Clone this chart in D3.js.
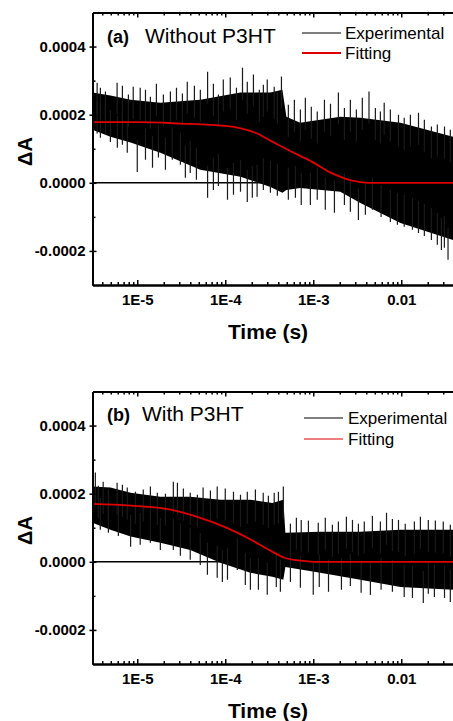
<!DOCTYPE html>
<html>
<head>
<meta charset="utf-8">
<script src="https://cdn.jsdelivr.net/npm/d3@7"></script>
<style>
  body { margin: 0; background: #fff; }
  svg { display: block; }
  text { font-family: "Liberation Sans", Arial, sans-serif; }
</style>
</head>
<body>
<svg></svg>
<script>
// Transient absorption decays, log time axis, two panels

// x ticks (shared)
var xTickValues = [1e-5, 1e-4, 1e-3, 1e-2]
var xTickLabels = ["1E-5", "1E-4", "1E-3", "0.01"]
var yTickValues = [-0.0002, 0, 0.0002, 0.0004]
var yMinorValues = [-0.0001, 0.0001, 0.0003]

// ---- panel (a) Without P3HT ----
// dense noise band of the experimental trace (upper / lower edge)
var aBandT  = [3.1e-6, 4.95e-6, 8.4e-6, 1.83e-5, 5.2e-5, 1.49e-4, 3.26e-4, 4.46e-4, 4.95e-4, 7.1e-4, 2.03e-3, 3.43e-3, 9.8e-3, 3.9e-2, 0.1]
var aBandHi = [2.65e-4, 2.56e-4, 2.44e-4, 2.35e-4, 2.44e-4, 2.65e-4, 2.65e-4, 2.73e-4, 1.94e-4, 1.76e-4, 1.94e-4, 1.91e-4, 1.76e-4, 1.35e-4, 1.3e-4]
var aBandLo = [1.56e-4, 1.35e-4, 1.18e-4, 0.88e-4, 0.38e-4, 0.18e-4, -0.12e-4, -0.29e-4, -0.21e-4, -0.15e-4, -0.26e-4, -0.59e-4, -1.18e-4, -1.68e-4, -1.75e-4]
// spikes sticking out above / below the band
var aUpT = [3.5e-6, 3.81e-6, 4.35e-6, 5.9e-6, 6.78e-6, 7.93e-6, 9.0e-6, 1.08e-5, 1.24e-5, 1.41e-5, 1.65e-5, 1.98e-5,
            2.38e-5, 2.79e-5, 3.26e-5, 3.7e-5, 4.46e-5, 5.21e-5, 6.3e-5, 7.33e-5, 8.36e-5, 9.5e-5, 1.14e-4, 1.34e-4,
            1.57e-4, 1.78e-4, 2.09e-4, 2.44e-4, 2.71e-4, 3.0e-4, 3.6e-4, 3.91e-4, 4.35e-4, 5.21e-4, 6.1e-4, 7.14e-4,
            8.13e-4, 9.5e-4, 1.11e-3, 1.34e-3, 1.57e-3, 1.93e-3, 2.26e-3, 2.64e-3, 3.09e-3, 3.61e-3, 4.3e-3, 5.08e-3,
            5.79e-3, 6.4e-3, 7.52e-3, 9.3e-3, 1.08e-2, 1.27e-2, 1.57e-2, 1.83e-2, 2.2e-2, 2.57e-2, 3.1e-2, 3.61e-2]
var aUpV = [2.94e-4, 2.79e-4, 2.68e-4, 2.94e-4, 2.85e-4, 2.59e-4, 2.82e-4, 2.79e-4, 2.73e-4, 2.53e-4, 2.91e-4, 2.59e-4,
            2.68e-4, 2.79e-4, 2.62e-4, 2.97e-4, 2.85e-4, 2.73e-4, 3.26e-4, 2.91e-4, 2.59e-4, 3.03e-4, 3.09e-4, 2.79e-4,
            3.38e-4, 2.97e-4, 3.18e-4, 2.73e-4, 2.88e-4, 3.03e-4, 2.82e-4, 2.68e-4, 3.12e-4, 2.29e-4, 2.44e-4, 2.15e-4,
            2.5e-4, 2.23e-4, 2.09e-4, 2.44e-4, 2.32e-4, 2.65e-4, 2.2e-4, 2.44e-4, 2.15e-4, 2.5e-4, 2.68e-4, 2.2e-4,
            2.09e-4, 2.35e-4, 2.15e-4, 2.0e-4, 1.91e-4, 2.0e-4, 2.06e-4, 1.85e-4, 1.65e-4, 1.71e-4, 1.65e-4, 1.56e-4]
var aDownT = [3.5e-6, 3.81e-6, 4.35e-6, 4.95e-6, 5.94e-6, 6.78e-6, 7.7e-6, 1.0e-5, 1.24e-5, 1.49e-5, 1.74e-5, 2.09e-5,
              2.5e-5, 3.09e-5, 3.52e-5, 4.0e-5, 4.7e-5, 6.3e-5, 7.33e-5, 8.36e-5, 1.06e-4, 1.24e-4, 1.49e-4, 1.78e-4,
              2.03e-4, 2.3e-4, 2.71e-4, 3.26e-4, 3.91e-4, 5.21e-4, 6.27e-4, 7.3e-4, 9.27e-4, 1.11e-3, 1.37e-3, 1.74e-3,
              2.26e-3, 2.64e-3, 3.26e-3, 3.91e-3, 4.7e-3, 5.9e-3, 7.52e-3, 9.04e-3, 1.08e-2, 1.34e-2, 1.57e-2, 1.83e-2,
              2.2e-2, 2.57e-2, 2.86e-2, 3.09e-2, 3.4e-2]
var aDownV = [1.45e-4, 1.32e-4, 1.44e-4, 1.2e-4, 1.03e-4, 1.12e-4, 0.88e-4, 0.32e-4, 0.68e-4, 0.44e-4, 0.74e-4, 0.38e-4,
              0.68e-4, 0.53e-4, 0.15e-4, 0.29e-4, 0.09e-4, -0.44e-4, -0.21e-4, -0.09e-4, -0.50e-4, -0.35e-4, -0.26e-4, -0.56e-4,
              -0.44e-4, -0.41e-4, -0.21e-4, -0.29e-4, -0.38e-4, -0.5e-4, -0.44e-4, -0.65e-4, -0.65e-4, -0.5e-4, -0.79e-4, -0.88e-4,
              -0.65e-4, -0.85e-4, -1.09e-4, -0.94e-4, -0.79e-4, -1.0e-4, -1.15e-4, -1.23e-4, -1.29e-4, -1.38e-4, -1.47e-4, -1.56e-4,
              -1.68e-4, -1.82e-4, -1.97e-4, -1.91e-4, -2.26e-4]
// fitted curve
var aFitT = [3.1e-6, 1e-5, 3.1e-5, 1e-4, 1.5e-4, 2.2e-4, 3.3e-4, 5.6e-4, 9.5e-4, 1.6e-3, 2.7e-3, 4.2e-3, 1e-2, 0.1]
var aFitV = [1.78e-4, 1.78e-4, 1.74e-4, 1.67e-4, 1.6e-4, 1.47e-4, 1.23e-4, 9.2e-5, 6.3e-5, 2.9e-5, 7e-6, 0, 0, 0]

// ---- panel (b) With P3HT ----
var bBandT  = [3.1e-6, 4.95e-6, 8.4e-6, 1.83e-5, 4.0e-5, 8.8e-5, 1.93e-4, 3.43e-4, 4.57e-4, 4.82e-4, 1.2e-3, 3.43e-3, 9.8e-3, 3.9e-2, 0.1]
var bBandHi = [2.21e-4, 2.18e-4, 2.03e-4, 1.91e-4, 1.91e-4, 1.82e-4, 1.82e-4, 1.73e-4, 1.82e-4, 0.85e-4, 0.88e-4, 0.88e-4, 0.94e-4, 0.94e-4, 0.94e-4]
var bBandLo = [1.15e-4, 0.94e-4, 0.74e-4, 0.56e-4, 0.35e-4, -0.03e-4, -0.32e-4, -0.44e-4, -0.53e-4, -0.15e-4, -0.32e-4, -0.53e-4, -0.74e-4, -0.82e-4, -0.85e-4]
var bUpT = [3.17e-6, 3.34e-6, 3.61e-6, 4.1e-6, 4.7e-6, 5.9e-6, 6.78e-6, 7.7e-6, 9.53e-6, 1.17e-5, 1.41e-5, 1.69e-5,
            2.09e-5, 2.57e-5, 2.86e-5, 3.34e-5, 4.0e-5, 4.82e-5, 5.6e-5, 6.78e-5, 8.1e-5, 1.0e-4, 1.24e-4, 1.49e-4,
            1.78e-4, 2.2e-4, 2.7e-4, 3.09e-4, 3.6e-4, 4.02e-4, 4.57e-4, 5.5e-4, 6.43e-4, 7.3e-4, 8.81e-4, 1.14e-3,
            1.37e-3, 1.65e-3, 1.93e-3, 2.38e-3, 2.79e-3, 3.26e-3, 3.8e-3, 4.7e-3, 5.79e-3, 6.8e-3, 7.93e-3, 9.3e-3,
            1.11e-2, 1.41e-2, 1.65e-2, 2.03e-2, 2.44e-2, 3.0e-2, 3.61e-2]
var bUpV = [2.41e-4, 2.62e-4, 2.23e-4, 2.35e-4, 2.12e-4, 2.32e-4, 2.26e-4, 2.18e-4, 2.06e-4, 2.12e-4, 2.21e-4, 2.03e-4,
            2.0e-4, 2.35e-4, 2.32e-4, 2.15e-4, 2.03e-4, 1.97e-4, 2.18e-4, 2.09e-4, 2.21e-4, 2.15e-4, 2.06e-4, 1.97e-4,
            2.06e-4, 2.12e-4, 2.03e-4, 1.94e-4, 2.03e-4, 2.06e-4, 2.21e-4, 1.12e-4, 1.29e-4, 1.23e-4, 1.21e-4, 1.15e-4,
            1.29e-4, 1.09e-4, 1.18e-4, 1.32e-4, 1.23e-4, 1.12e-4, 1.18e-4, 1.35e-4, 1.18e-4, 1.44e-4, 1.26e-4, 1.23e-4,
            1.12e-4, 1.18e-4, 1.32e-4, 1.23e-4, 1.21e-4, 1.18e-4, 1.09e-4]
var bDownT = [3.8e-6, 4.7e-6, 6.1e-6, 8.4e-6, 1.08e-5, 1.41e-5, 1.83e-5, 2.57e-5, 3.09e-5, 4.0e-5, 5.2e-5, 6.27e-5,
              8.1e-5, 9.27e-5, 1.06e-4, 1.37e-4, 1.69e-4, 1.93e-4, 2.38e-4, 3.0e-4, 3.8e-4, 4.23e-4, 5.5e-4, 7.14e-4,
              1.0e-3, 1.17e-3, 1.49e-3, 2.09e-3, 2.64e-3, 3.5e-3, 4.46e-3, 5.9e-3, 7.93e-3, 1.08e-2, 1.34e-2, 1.78e-2,
              2.03e-2, 2.38e-2, 3.1e-2, 3.61e-2]
var bDownV = [0.94e-4, 0.85e-4, 0.76e-4, 0.44e-4, 0.5e-4, 0.56e-4, 0.35e-4, 0.35e-4, 0.18e-4, 0.06e-4, -0.09e-4, -0.38e-4,
              -0.47e-4, -0.59e-4, -0.53e-4, -0.24e-4, -0.68e-4, -0.82e-4, -0.82e-4, -0.97e-4, -0.74e-4, -0.88e-4, -0.59e-4, -0.76e-4,
              -0.97e-4, -0.74e-4, -0.88e-4, -0.82e-4, -0.71e-4, -0.91e-4, -0.97e-4, -0.82e-4, -0.88e-4, -1.03e-4, -1.06e-4, -1.21e-4,
              -0.94e-4, -1.03e-4, -1.06e-4, -1.18e-4]
var bFitT = [3.1e-6, 8.4e-6, 2.4e-5, 5.2e-5, 9.5e-5, 1.8e-4, 3.4e-4, 4.7e-4, 6.8e-4, 1.03e-3, 1e-2, 0.1]
var bFitV = [1.70e-4, 1.65e-4, 1.53e-4, 1.29e-4, 1.04e-4, 0.70e-4, 0.30e-4, 0.12e-4, 0.04e-4, 0, 0, 0]

var canvas = {width: 453, height: 721}
var plotLeft = 92.5, panelH = 272.5, decadePx = 88
var xMin = 3.1e-6, xMax = 0.1

var svg = d3.select("svg")
    .attr("width", canvas.width)
    .attr("height", canvas.height)

// the frame runs past the right edge of the picture, like the original crop
var x = d3.scaleLog()
    .domain([xMin, xMax])
    .range([plotLeft, plotLeft + decadePx * Math.log10(xMax / xMin)])

var xMinor = []
for (var e = -6; e <= -2; e++) {
    for (var m = 2; m <= 9; m++) {
        var v = m * Math.pow(10, e)
        if (v > xMin && v < xMax) xMinor.push(v)
    }
}

function drawPanel(p) {
    var top = p.top, bottom = p.top + panelH
    var y = d3.scaleLinear().domain([-0.0003, 0.0005]).range([bottom, top])
    var g = svg.append("g")

    g.append("clipPath").attr("id", "clip-" + p.key)
      .append("rect")
        .attr("x", plotLeft).attr("y", top)
        .attr("width", canvas.width - plotLeft).attr("height", panelH)

    var plot = g.append("g").attr("clip-path", `url(#clip-${p.key})`)

    // zero baseline
    plot.append("line")
        .attr("x1", plotLeft).attr("x2", canvas.width)
        .attr("y1", y(0)).attr("y2", y(0))
        .attr("stroke", "#000").attr("stroke-width", 1.5)

    // dense band of the experimental trace
    var band = p.bandT.map((t, i) => ({t: t, hi: p.bandHi[i], lo: p.bandLo[i]}))
    plot.append("path")
        .datum(band)
        .attr("d", d3.area().x(d => x(d.t)).y0(d => y(d.lo)).y1(d => y(d.hi)))
        .attr("fill", "#000")

    // spikes
    var spikeLen = 32
    plot.selectAll(".up")
        .data(p.upT.map((t, i) => ({t: t, v: p.upV[i]})))
        .enter().append("line")
        .attr("class", "up")
        .attr("x1", d => x(d.t)).attr("x2", d => x(d.t))
        .attr("y1", d => y(d.v)).attr("y2", d => y(d.v) + spikeLen)
        .attr("stroke", "#1a1a1a").attr("stroke-width", 1.2)
    plot.selectAll(".down")
        .data(p.downT.map((t, i) => ({t: t, v: p.downV[i]})))
        .enter().append("line")
        .attr("class", "down")
        .attr("x1", d => x(d.t)).attr("x2", d => x(d.t))
        .attr("y1", d => y(d.v)).attr("y2", d => y(d.v) - spikeLen)
        .attr("stroke", "#1a1a1a").attr("stroke-width", 1.2)

    // fitted curve
    plot.append("path")
        .datum(p.fitT.map((t, i) => ({t: t, v: p.fitV[i]})))
        .attr("d", d3.line().x(d => x(d.t)).y(d => y(d.v)).curve(d3.curveMonotoneX))
        .attr("fill", "none")
        .attr("stroke", "#e00000")
        .attr("stroke-width", 1.8)

    // axes
    var axes = g.append("g")
    axes.append("g")
        .attr("transform", `translate(${plotLeft},0)`)
        .call(d3.axisLeft(y).tickValues(yTickValues).tickSize(3).tickSizeOuter(0)
            .tickPadding(4).tickFormat(d => d.toFixed(4)))
    axes.append("g")
        .attr("transform", `translate(${plotLeft},0)`)
        .call(d3.axisRight(y).tickValues(yTickValues).tickSize(4).tickSizeOuter(0).tickFormat(""))
    axes.append("g")
        .attr("transform", `translate(${plotLeft},0)`)
        .call(d3.axisRight(y).tickValues(yMinorValues).tickSize(3).tickSizeOuter(0).tickFormat(""))

    axes.append("g")
        .attr("transform", `translate(0,${bottom})`)
        .call(d3.axisBottom(x).tickValues(xTickValues).tickSize(-5).tickSizeOuter(0)
            .tickPadding(9).tickFormat((d, i) => xTickLabels[i]))
    axes.append("g")
        .attr("transform", `translate(0,${bottom})`)
        .call(d3.axisBottom(x).tickValues(xMinor).tickSize(-3).tickSizeOuter(0).tickFormat(""))
    axes.append("g")
        .attr("transform", `translate(0,${top})`)
        .call(d3.axisTop(x).tickValues(xTickValues).tickSize(-5).tickSizeOuter(0).tickFormat(""))
    axes.append("g")
        .attr("transform", `translate(0,${top})`)
        .call(d3.axisTop(x).tickValues(xMinor).tickSize(-3).tickSizeOuter(0).tickFormat(""))

    axes.selectAll(".domain").attr("stroke-width", 2)
    axes.selectAll(".tick line").attr("stroke-width", 1.5)
    axes.selectAll(".tick text")
        .attr("font-family", "'Liberation Sans', Arial, sans-serif")
        .attr("font-size", 15)
        .attr("font-weight", "bold")
        .attr("fill", "#000")

    // axis titles
    g.append("text")
        .attr("x", 268).attr("y", top + 326)
        .attr("text-anchor", "middle")
        .attr("font-size", 21).attr("font-weight", "bold")
        .text("Time (s)")
    g.append("text")
        .attr("transform", `translate(32,${top + 139}) rotate(-90)`)
        .attr("text-anchor", "middle")
        .attr("font-size", 20).attr("font-weight", "bold")
        .text("ΔA")

    // panel label
    g.append("text")
        .attr("x", 107).attr("y", top + p.titleDy)
        .attr("font-size", 18).attr("font-weight", "bold")
        .text(p.tag)
    g.append("text")
        .attr("x", p.titleX).attr("y", top + p.titleDy)
        .attr("font-size", 21)
        .text(p.title)

    // legend
    var legend = g.append("g").attr("transform", `translate(${p.legX},${top + p.legDy})`)
    var items = [
        {label: "Experimental", color: "#000", w: 1},
        {label: "Fitting", color: "#e00000", w: p.fitLegW}
    ]
    items.forEach((it, i) => {
        legend.append("line")
            .attr("x1", 0).attr("x2", 39)
            .attr("y1", i * p.legStep).attr("y2", i * p.legStep)
            .attr("stroke", it.color).attr("stroke-width", it.w)
        legend.append("text")
            .attr("x", 43 + p.legGap).attr("y", i * p.legStep + 6)
            .attr("font-size", 17)
            .text(it.label)
    })
}

drawPanel({
    key: "a", top: 12.5, tag: "(a)", title: "Without P3HT", titleX: 145, titleDy: 30.5,
    legX: 302, legDy: 20.5, legStep: 20, legGap: 0, fitLegW: 2,
    bandT: aBandT, bandHi: aBandHi, bandLo: aBandLo,
    upT: aUpT, upV: aUpV, downT: aDownT, downV: aDownV,
    fitT: aFitT, fitV: aFitV
})
drawPanel({
    key: "b", top: 391.5, tag: "(b)", title: "With P3HT", titleX: 142, titleDy: 29,
    legX: 304, legDy: 26.5, legStep: 21, legGap: 1, fitLegW: 1.2,
    bandT: bBandT, bandHi: bBandHi, bandLo: bBandLo,
    upT: bUpT, upV: bUpV, downT: bDownT, downV: bDownV,
    fitT: bFitT, fitV: bFitV
})
</script>
</body>
</html>
